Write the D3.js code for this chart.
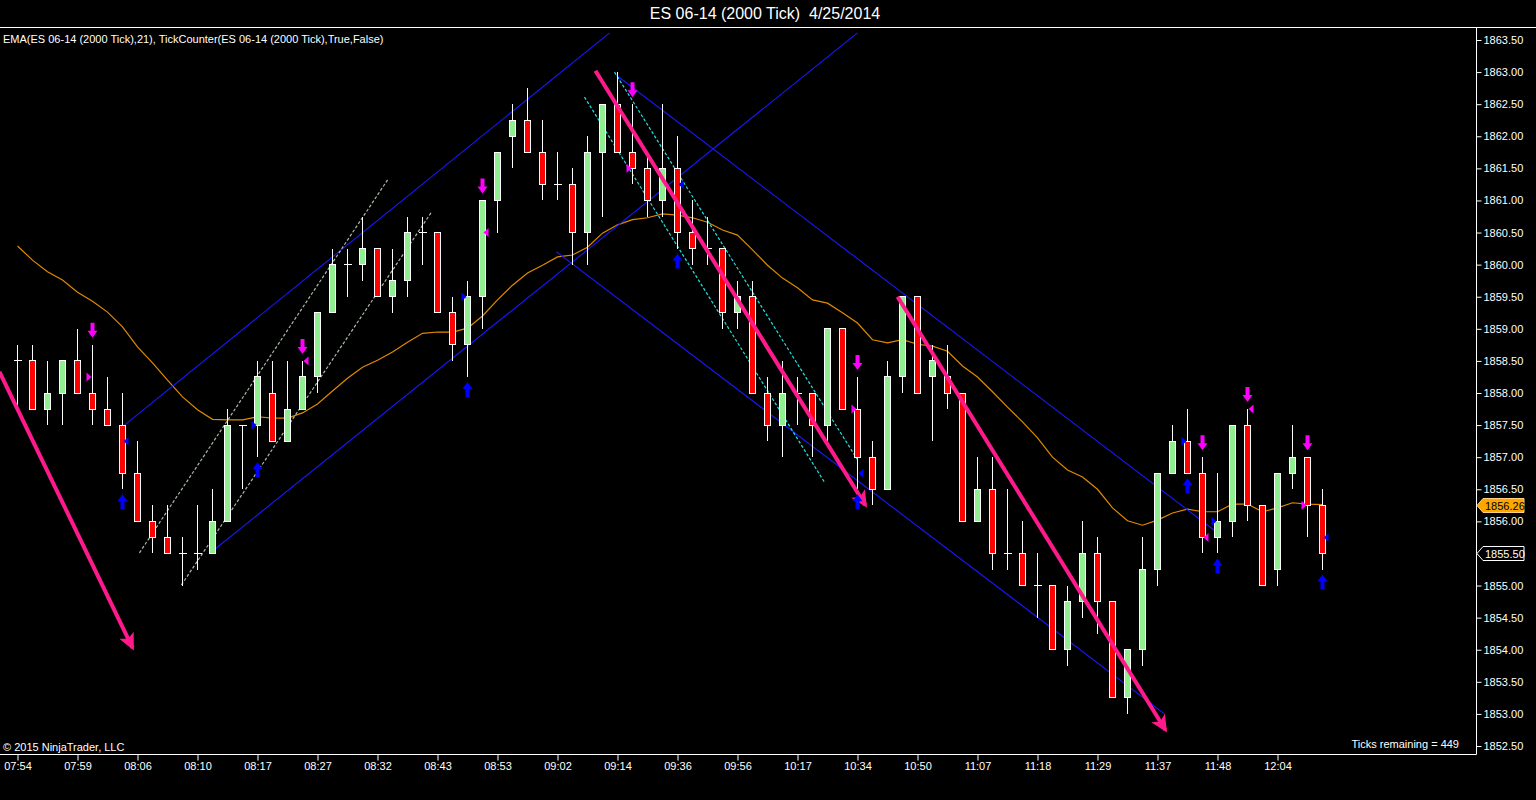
<!DOCTYPE html>
<html>
<head>
<meta charset="utf-8">
<script src="https://cdn.jsdelivr.net/npm/d3@7"></script>
<style>
  html, body { margin: 0; padding: 0; background: #000; }
  svg { display: block; font-family: "Liberation Sans", Arial, sans-serif; }
</style>
</head>
<body>
<div id="chart"></div>
<script>
const width = 1536;
const height = 800;

// bar data (2000 tick bars, ES 06-14)
const opens = [1858.5,1858.5,1857.75,1858,1858.5,1858,1857.75,1857.5,1856.75,1856,1855.75,1855.5,1855.5,1855.5,1856,1857.5,
  1857.5,1858,1857.25,1857.75,1858.25,1859.25,1860,1860,1860.25,1859.5,1859.75,1860.5,1860.5,1859.25,1858.75,1859.5,
  1861,1862,1862.25,1861.75,1861.25,1861.25,1860.5,1861.75,1862.5,1861.75,1861.5,1861,1861.5,1860.5,1860.25,1860.25,
  1859.25,1859.5,1858,1857.5,1858,1858,1857.5,1859,1857.75,1857,1856.5,1858.25,1859.5,1858.25,1858.25,1858,1856,
  1856.5,1855.5,1855.5,1855,1855,1854,1854.75,1855.5,1854.75,1853.25,1854,1855.25,1856.75,1857.25,1856.75,1855.75,
  1856,1857.5,1856.25,1855.25,1856.75,1857,1856.25];
const highs = [1858.75,1858.75,1858.5,1858.5,1859,1858.75,1858.25,1858,1857.25,1856.25,1856.25,1855.75,1856.25,1856.5,1857.75,1857.5,
  1858.5,1858.5,1858.5,1858.5,1859.25,1860.25,1860.25,1860.75,1860.25,1860.25,1860.75,1860.75,1860.5,1859.5,1859.75,1861,
  1861.75,1862.5,1862.75,1862.25,1861.75,1861.5,1862,1862.5,1863,1862.5,1861.75,1862.5,1862,1861,1860.75,1860.25,
  1859.75,1859.75,1858.25,1858.5,1858.25,1858,1859,1859,1858.25,1857.25,1858.5,1859.5,1859.5,1858.75,1858.75,1858,1857,
  1857,1856.5,1856,1855.5,1855,1855,1856,1855.75,1854.75,1854,1855.75,1856.75,1857.5,1857.75,1857,1856.75,
  1857.5,1857.75,1856.25,1856.75,1857.5,1857,1856.5];
const lows = [1857.75,1857.75,1857.5,1857.5,1858,1857.5,1857.5,1856.5,1856,1855.5,1855.5,1855,1855.25,1855.5,1856,1856.5,
  1857,1857.25,1857.25,1857.75,1858,1859.25,1859.5,1859.75,1859.5,1859.25,1859.5,1860,1859.25,1858.5,1858.25,1859,
  1860.5,1861.5,1861.75,1861,1861,1860,1860,1860.75,1861.75,1861.25,1860.75,1860.75,1860.25,1860,1860,1859,
  1859,1858,1857.25,1857,1857.5,1857,1857.25,1857.75,1856.5,1856.25,1856.5,1858,1858,1857.25,1857.75,1856,1856,
  1855.25,1855.25,1855,1854.5,1854,1853.75,1854.5,1854.25,1853.25,1853,1853.75,1855,1856.75,1856.75,1855.5,1855.5,
  1855.75,1856,1855,1855,1856.5,1855.75,1855.25];
const closes = [1858.5,1857.75,1858,1858.5,1858,1857.75,1857.5,1856.75,1856,1855.75,1855.5,1855.5,1855.5,1856,1857.5,1857.5,
  1858.25,1857.25,1857.75,1858.25,1859.25,1860,1860,1860.25,1859.5,1859.75,1860.5,1860.5,1859.25,1858.75,1859.5,1861,
  1861.75,1862.25,1861.75,1861.25,1861.25,1860.5,1861.75,1862.5,1861.75,1861.5,1861,1861.5,1860.5,1860.25,1860.25,1859.25,
  1859.5,1858,1857.5,1858,1858,1857.5,1859,1857.75,1857,1856.5,1858.25,1859.5,1858,1858.5,1858,1856,1856.5,
  1855.5,1855.5,1855,1855,1854,1854.75,1855.5,1854.75,1853.25,1854,1855.25,1856.75,1857.25,1856.75,1855.75,1856,
  1857.5,1856.25,1855,1856.75,1857,1856.25,1855.5];

// EMA(21) as plotted
const ema = [1860.29,1860.07,1859.89,1859.76,1859.57,1859.43,1859.26,1859.03,1858.72,1858.47,1858.2,1857.94,1857.74,1857.59,1857.58,1857.58,
  1857.63,1857.61,1857.61,1857.69,1857.83,1858.03,1858.23,1858.4,1858.51,1858.64,1858.79,1858.93,1858.95,1858.95,1859.01,1859.2,
  1859.45,1859.68,1859.87,1859.99,1860.12,1860.15,1860.27,1860.49,1860.62,1860.7,1860.73,1860.79,1860.77,1860.73,1860.66,1860.54,
  1860.46,1860.23,1859.99,1859.79,1859.64,1859.45,1859.4,1859.25,1859.09,1858.83,1858.78,1858.83,1858.76,1858.73,1858.65,1858.42,1858.25,
  1858.02,1857.78,1857.55,1857.3,1857,1856.8,1856.69,1856.5,1856.21,1856.01,1855.94,1856.02,1856.13,1856.19,1856.15,1856.15,
  1856.27,1856.27,1856.15,1856.21,1856.29,1856.27,1856.26];

const timeLabels = ["07:54","07:59","08:06","08:10","08:17","08:27","08:32","08:43","08:53","09:02","09:14",
  "09:36","09:56","10:17","10:34","10:50","11:07","11:18","11:29","11:37","11:48","12:04"];
const priceTicks = d3.range(1852.5, 1863.51, 0.5);

// TickCounter / signal markers: bar index (and price for the small triangles)
const sellArrows = [5, 19, 31, 41, 56, 79, 82, 86];
const sellTriangles = [[5,1858.25,"r"],[19,1858.5,"l"],[31,1860.5,"l"],[41,1861.5,"r"],[56,1857.75,"r"],[79,1855.75,"l"],[82,1857.75,"l"],[86,1856.25,"r"]];
const buyArrows = [7, 16, 30, 44, 56, 78, 80, 87];
const buyTriangles = [[7,1857.25,"l"],[16,1857.5,"r"],[30,1859.5,"r"],[44,1861.25,"l"],[56,1856.75,"l"],[78,1857.25,"r"],[80,1856,"r"],[87,1855.75,"l"]];

// drawing objects: [barFrom, priceFrom, barTo, priceTo]
const pinkArrows = [[-1.2,1858.33,7.67,1854.03],[38.53,1863.02,56.53,1856.25],[58.67,1859.5,76.53,1852.75]];
const blueLines = [[7.13,1857.5,39.47,1863.61],[12.8,1855.5,56,1863.61],[39.93,1862.95,80.13,1855.8],[35.93,1860.2,76.47,1853.0]];
const grayDashed = [[8.13,1855.51,24.67,1861.32],[10.93,1855.01,27.6,1860.82]];
const cyanDashed = [[37.8,1862.61,53.8,1856.61],[39.8,1863.0,56,1856.96]];

const lastPrice = 1855.5;
const lastEma = 1856.26;

const plotRight = 1476, plotTop = 27, plotBottom = 754;

const x = d3.scaleLinear().domain([0, 87]).range([17.5, 1322.5]);
const y = d3.scaleLinear().domain([1852.5, 1863.5]).range([746, 40]);

const svg = d3.select("#chart").append("svg")
  .attr("width", width).attr("height", height)
  .attr("viewBox", [0, 0, width, height]);

svg.append("rect").attr("width", width).attr("height", height).attr("fill", "#000");

const defs = svg.append("defs");
defs.append("clipPath").attr("id", "plot")
  .append("rect").attr("x", 0).attr("y", plotTop + 1).attr("width", plotRight).attr("height", plotBottom - plotTop - 1);
defs.append("marker")
  .attr("id", "pinkHead")
  .attr("markerUnits", "userSpaceOnUse")
  .attr("markerWidth", 18).attr("markerHeight", 18)
  .attr("refX", 14).attr("refY", 9)
  .attr("orient", "auto")
  .append("path")
    .attr("d", "M0,1 L17,9 L0,17 L4,9 Z")
    .attr("fill", "#ff1a8c");

// header
svg.append("text")
  .attr("x", 765).attr("y", 19)
  .attr("text-anchor", "middle")
  .attr("fill", "#fff")
  .attr("font-size", 16)
  .style("white-space", "pre")
  .text("ES 06-14 (2000 Tick)  4/25/2014");

svg.append("line").attr("x1", 0).attr("x2", width).attr("y1", 27.5).attr("y2", 27.5).attr("stroke", "#fff");
svg.append("line").attr("x1", plotRight + 0.5).attr("x2", plotRight + 0.5).attr("y1", 28).attr("y2", plotBottom + 0.5).attr("stroke", "#fff");
svg.append("line").attr("x1", 0).attr("x2", plotRight + 0.5).attr("y1", plotBottom + 0.5).attr("y2", plotBottom + 0.5).attr("stroke", "#fff");

const plot = svg.append("g").attr("clip-path", "url(#plot)");

const seg = d => [[x(d[0]), y(d[1])], [x(d[2]), y(d[3])]];
const line = d3.line();

// EMA
plot.append("path")
  .datum(ema)
  .attr("d", d3.line().x((d, i) => x(i)).y(d => y(d)))
  .attr("fill", "none")
  .attr("stroke", "#e08a00")
  .attr("stroke-width", 1.2);

// channels
plot.selectAll(".blue").data(blueLines).join("path")
  .attr("d", d => line(seg(d)))
  .attr("stroke", "#1818ff").attr("stroke-width", 1.1).attr("fill", "none");
plot.selectAll(".gray").data(grayDashed).join("path")
  .attr("d", d => line(seg(d)))
  .attr("stroke", "#a9bba6").attr("stroke-width", 1.2).attr("stroke-dasharray", "3,2").attr("fill", "none");
plot.selectAll(".cyan").data(cyanDashed).join("path")
  .attr("d", d => line(seg(d)))
  .attr("stroke", "#22e0e0").attr("stroke-width", 1.2).attr("stroke-dasharray", "3,2").attr("fill", "none");

// candles
const bars = d3.range(opens.length).map(i => ({ i, o: opens[i], h: highs[i], l: lows[i], c: closes[i] }));
const candles = plot.append("g").attr("shape-rendering", "crispEdges");
candles.selectAll(".wick").data(bars).join("line")
  .attr("x1", d => x(d.i)).attr("x2", d => x(d.i))
  .attr("y1", d => y(d.h)).attr("y2", d => y(d.l))
  .attr("stroke", "#fff");
candles.selectAll(".body").data(bars.filter(d => d.o !== d.c)).join("rect")
  .attr("x", d => x(d.i) - 3)
  .attr("width", 6)
  .attr("y", d => y(Math.max(d.o, d.c)))
  .attr("height", d => Math.abs(y(d.o) - y(d.c)))
  .attr("fill", d => d.c > d.o ? "#90ee90" : "#ff0000")
  .attr("stroke", "#fff");
candles.selectAll(".doji").data(bars.filter(d => d.o === d.c)).join("line")
  .attr("x1", d => x(d.i) - 4).attr("x2", d => x(d.i) + 4)
  .attr("y1", d => y(d.c)).attr("y2", d => y(d.c))
  .attr("stroke", "#fff");

// pink trend arrows
plot.selectAll(".pink").data(pinkArrows).join("path")
  .attr("d", d => line(seg(d)))
  .attr("stroke", "#ff1a8c").attr("stroke-width", 4).attr("fill", "none")
  .attr("marker-end", "url(#pinkHead)");

// signal arrows
const downArrow = "M-2,0 L2,0 L2,8 L5,8 L0,15 L-5,8 L-2,8 Z";
const upArrow = "M-2,15 L2,15 L2,7 L5,7 L0,0 L-5,7 L-2,7 Z";
plot.selectAll(".sell").data(sellArrows).join("path")
  .attr("transform", i => `translate(${x(i)},${y(highs[i]) - 22})`)
  .attr("d", downArrow).attr("fill", "#ff00ff");
plot.selectAll(".buy").data(buyArrows).join("path")
  .attr("transform", i => `translate(${x(i)},${y(lows[i]) + 5})`)
  .attr("d", upArrow).attr("fill", "#0000ff");

const tri = side => side === "r" ? "M-6,-4.5 L-1,0 L-6,4.5 Z" : "M6,-4.5 L1,0 L6,4.5 Z";
plot.selectAll(".stri").data(sellTriangles).join("path")
  .attr("transform", d => `translate(${x(d[0])},${y(d[1])})`)
  .attr("d", d => tri(d[2])).attr("fill", "#ff00ff");
plot.selectAll(".btri").data(buyTriangles).join("path")
  .attr("transform", d => `translate(${x(d[0])},${y(d[1])})`)
  .attr("d", d => tri(d[2])).attr("fill", "#0000ff");

// axes
const rightAxis = d3.axisRight(y)
  .tickValues(priceTicks)
  .tickFormat(d3.format(".2f"))
  .tickSize(5)
  .tickPadding(2);
const yAxisG = svg.append("g")
  .attr("transform", `translate(${plotRight + 0.5},0)`)
  .call(rightAxis);
yAxisG.select(".domain").remove();
yAxisG.selectAll("line").attr("stroke", "#fff");
yAxisG.selectAll("text").attr("fill", "#fff").attr("font-size", 11).attr("font-family", "Liberation Sans, Arial");

const bottomAxis = d3.axisBottom(x)
  .tickValues(d3.range(0, 88, 4))
  .tickFormat(i => timeLabels[i / 4])
  .tickSize(6)
  .tickPadding(2);
const xAxisG = svg.append("g")
  .attr("transform", `translate(0,${plotBottom + 0.5})`)
  .call(bottomAxis);
xAxisG.select(".domain").remove();
xAxisG.selectAll("line").attr("stroke", "#fff");
xAxisG.selectAll("text").attr("fill", "#fff").attr("font-size", 11).attr("font-family", "Liberation Sans, Arial");

// price tags
const tag = (price, fill, stroke, color) => {
  const ty = Math.round(y(price)) + 0.5;
  const g = svg.append("g");
  g.append("path")
    .attr("d", `M${plotRight + 1},${ty} L${plotRight + 7},${ty - 7} L${plotRight + 48},${ty - 7} L${plotRight + 48},${ty + 7} L${plotRight + 7},${ty + 7} Z`)
    .attr("fill", fill).attr("stroke", stroke);
  g.append("text")
    .attr("x", plotRight + 9).attr("y", ty + 4)
    .attr("fill", color).attr("font-size", 11)
    .text(price.toFixed(2));
};
tag(lastEma, "#ffa500", "#ffd080", "#000");
tag(lastPrice, "#000", "#fff", "#fff");

// texts
svg.append("text")
  .attr("x", 3).attr("y", 43)
  .attr("fill", "#fff").attr("font-size", 11)
  .text("EMA(ES 06-14 (2000 Tick),21), TickCounter(ES 06-14 (2000 Tick),True,False)");
svg.append("text")
  .attr("x", 3).attr("y", 751)
  .attr("fill", "#fff").attr("font-size", 11)
  .text("© 2015 NinjaTrader, LLC");
svg.append("text")
  .attr("x", 1459).attr("y", 748)
  .attr("text-anchor", "end")
  .attr("fill", "#fff").attr("font-size", 11)
  .text("Ticks remaining = 449");
</script>
</body>
</html>
